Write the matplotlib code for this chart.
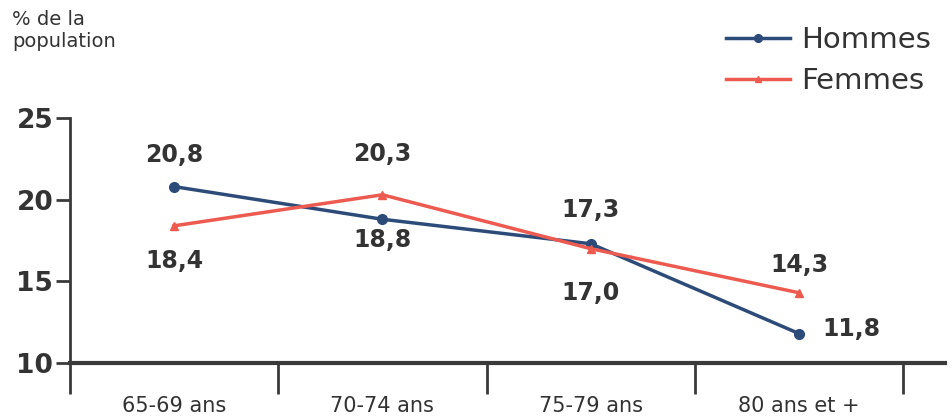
import matplotlib
matplotlib.use("Agg")
import matplotlib.pyplot as plt
import numpy as np

plt.rcParams["font.family"] = ["DejaVu Sans"]

# Data
categories = ["65-69 ans", "70-74 ans", "75-79 ans", "80 ans et +"]
hommes = [20.8, 18.8, 17.3, 11.8]
femmes = [18.4, 20.3, 17.0, 14.3]
hommes_labels = ["20,8", "18,8", "17,3", "11,8"]
femmes_labels = ["18,4", "20,3", "17,0", "14,3"]

BLUE = "#2d4b78"
RED = "#ec5a50"
AXIS = "#3a3a3a"
TEXT = "#333333"

fig = plt.figure(figsize=(9.52, 4.17), dpi=100)
ax = fig.add_axes([0.0735, 0.1295, 0.919, 0.5875])

x = np.arange(len(categories))
ax.plot(x, hommes, color=BLUE, lw=2.5, marker="o", markersize=7, label="Hommes")
ax.plot(x, femmes, color=RED, lw=2.5, marker="^", markersize=6, label="Femmes")

# value label offsets from the point, in points
h_offsets = [(0, 23), (0, -15), (0, 24), (38, 3)]
f_offsets = [(0, -25), (0, 29), (0, -32), (0, 20)]
for xi, v, lab, (dx, dy) in zip(x, hommes, hommes_labels, h_offsets):
    ax.annotate(lab, (xi, v), xytext=(dx, dy), textcoords="offset points",
                ha="center", va="center", fontsize=17, fontweight="bold", color=TEXT)
for xi, v, lab, (dx, dy) in zip(x, femmes, femmes_labels, f_offsets):
    ax.annotate(lab, (xi, v), xytext=(dx, dy), textcoords="offset points",
                ha="center", va="center", fontsize=17, fontweight="bold", color=TEXT)

ax.set_xlim(-0.5, 3.7)
ax.set_ylim(10, 25)
ax.set_yticks([10, 15, 20, 25])
ax.set_yticklabels(["10", "15", "20", "25"], fontsize=19, fontweight="bold", color=TEXT)

# category ticks sit between categories, labels centred under each category
ax.set_xticks([-0.5, 0.5, 1.5, 2.5, 3.5])
ax.set_xticklabels([])
ax.set_xticks(x, minor=True)
ax.set_xticklabels(categories, minor=True, fontsize=15, color=TEXT)
ax.tick_params(axis="x", which="major", direction="out", length=22, width=2, color=AXIS)
ax.tick_params(axis="x", which="minor", length=0, pad=24)
ax.tick_params(axis="y", direction="out", length=10, width=2, color=AXIS, pad=2)

for s in ["top", "right"]:
    ax.spines[s].set_visible(False)
ax.spines["bottom"].set_linewidth(3)
ax.spines["bottom"].set_color(AXIS)
ax.spines["left"].set_linewidth(2)
ax.spines["left"].set_color(AXIS)

fig.text(0.013, 0.975, "% de la\npopulation", ha="left", va="top",
         fontsize=14, color=TEXT, linespacing=1.2)

fig.legend(loc="upper right", bbox_to_anchor=(1.005, 1.0), frameon=False,
           fontsize=21, handlelength=2.2, handletextpad=0.35, labelspacing=0.45,
           labelcolor=TEXT, markerscale=0.8)

fig.savefig("out.png", dpi=100)
